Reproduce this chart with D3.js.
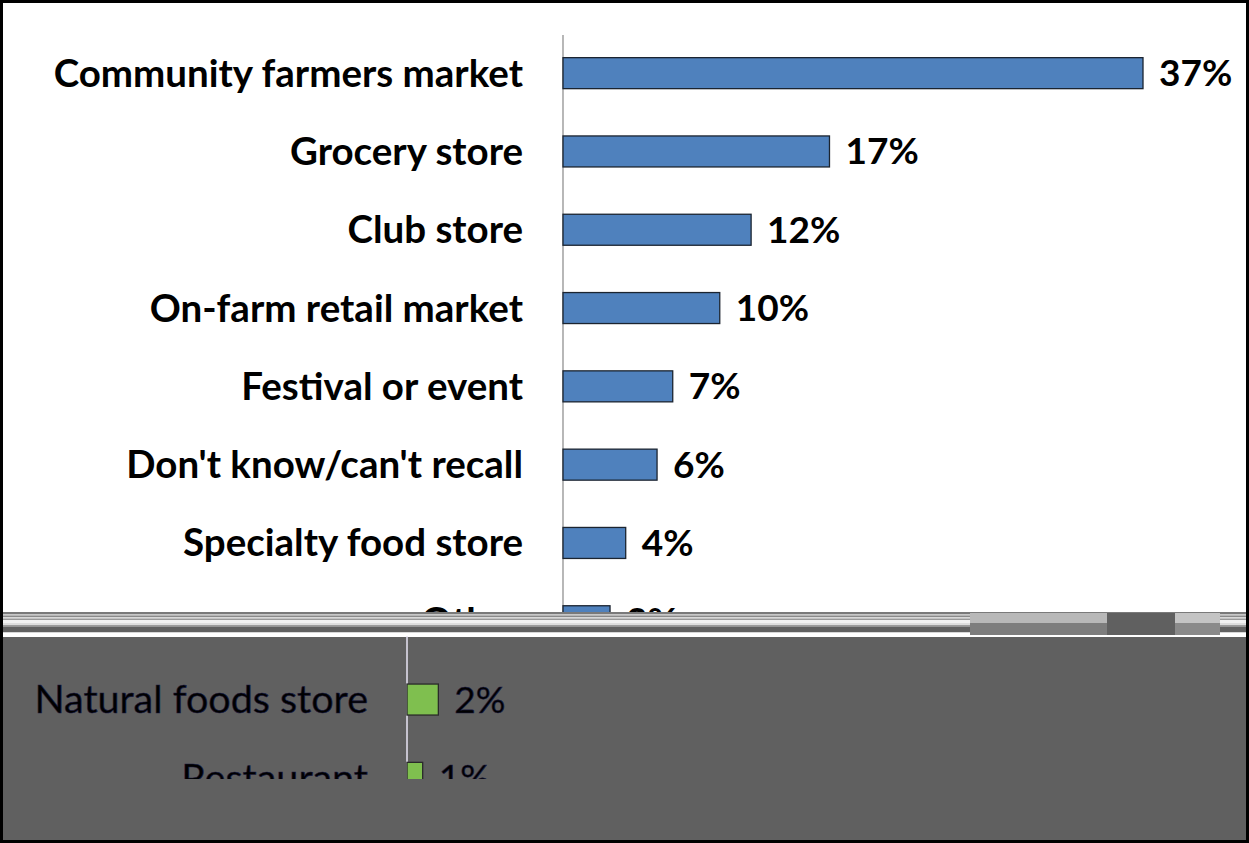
<!DOCTYPE html>
<html>
<head>
<meta charset="utf-8">
<script src="https://cdn.jsdelivr.net/npm/d3@7"></script>
<style>
  html, body { margin: 0; padding: 0; background: #fff; }
  svg { display: block; }
</style>
</head>
<body>
<svg id="chart" width="1249" height="843"></svg>
<script>
// ---- data ----
const categories = [
  "Community farmers market",
  "Grocery store",
  "Club store",
  "On-farm retail market",
  "Festival or event",
  "Don't know/can't recall",
  "Specialty food store",
  "Other",
  "Natural foods store",
  "Restaurant"
];
const values = [37, 17, 12, 10, 7, 6, 4, 3, 2, 1];
const valueLabels = ["37%", "17%", "12%", "10%", "7%", "6%", "4%", "3%", "2%", "1%"];
const topCategories = categories.slice(0, 8);
const bottomCategories = categories.slice(8);

const W = 1249, H = 843;
const svg = d3.select("#chart");
const font = "Lato, 'Open Sans', sans-serif";

svg.append("rect").attr("width", W).attr("height", H).attr("fill", "#fff");

const y = d3.scaleBand().domain(categories).range([34, 34 + 78.3 * 10]).paddingInner(0.6).paddingOuter(0.3);
const xTop = d3.scaleLinear().domain([0, 37]).range([563, 1143]);
const xBot = d3.scaleLinear().domain([0, 37]).range([407, 987]);

const defs = svg.append("defs");
defs.append("clipPath").attr("id", "clipTop").append("rect").attr("x", 0).attr("y", 0).attr("width", W).attr("height", 613);
defs.append("clipPath").attr("id", "clipBot").append("rect").attr("x", 0).attr("y", 636).attr("width", W).attr("height", 143);

// ---- top panel ----
const gTop = svg.append("g").attr("clip-path", "url(#clipTop)");
gTop.append("line").attr("x1", xTop(0)).attr("x2", xTop(0)).attr("y1", 35).attr("y2", 613)
  .attr("stroke", "#888").attr("stroke-width", 1.2);
const tRows = gTop.selectAll("g.row").data(topCategories).join("g").attr("class", "row");
tRows.append("rect")
  .attr("x", xTop(0)).attr("y", d => y(d) + (y.bandwidth() - 31) / 2)
  .attr("width", (d, i) => xTop(values[i]) - xTop(0)).attr("height", 31)
  .attr("fill", "#4f81bd").attr("stroke", "#1b2430").attr("stroke-width", 1.3);
tRows.append("text")
  .attr("x", xTop(0) - 40).attr("y", d => y(d) + y.bandwidth() / 2)
  .attr("dy", "0.35em").attr("text-anchor", "end")
  .attr("font-family", font).attr("font-weight", "bold").attr("font-size", 38.5)
  .attr("fill", "#000").text(d => d);
tRows.append("text")
  .attr("x", (d, i) => xTop(values[i]) + 16).attr("y", d => y(d) + y.bandwidth() / 2)
  .attr("dy", "0.35em").attr("text-anchor", "start")
  .attr("font-family", font).attr("font-weight", "bold").attr("font-size", 37)
  .attr("fill", "#000").text((d, i) => valueLabels[i]);

// ---- glitch band ----
const stripes = [
  [612, 2, "#7a7a7a"], [614, 1.5, "#c8c8c8"], [615.5, 1.5, "#8a8a8a"],
  [617, 1.5, "#d8d8d8"], [618.5, 1.5, "#9a9a9a"], [620, 3, "#f2f2f2"],
  [623, 2, "#dedede"], [625, 1.5, "#9c9c9c"], [626.5, 6, "#616161"],
  [632.5, 5, "#ffffff"]
];
svg.append("g").selectAll("rect").data(stripes).join("rect")
  .attr("x", 3).attr("y", d => d[0]).attr("width", W - 5).attr("height", d => d[1]).attr("fill", d => d[2]);
const blocks = [
  [970, 613, 140, 10, "#b8b8b8"], [970, 623, 140, 12, "#7d7d7d"],
  [1107, 613, 68, 22, "#606060"],
  [1175, 613, 45, 10, "#c4c4c4"], [1175, 623, 45, 12, "#8a8a8a"]
];
svg.append("g").selectAll("rect").data(blocks).join("rect")
  .attr("x", d => d[0]).attr("y", d => d[1]).attr("width", d => d[2]).attr("height", d => d[3]).attr("fill", d => d[4]);

// ---- bottom panel ----
svg.append("rect").attr("x", 3).attr("y", 637).attr("width", W - 5).attr("height", H - 640).attr("fill", "#606060");
const gBot = svg.append("g").attr("clip-path", "url(#clipBot)");
gBot.append("line").attr("x1", xBot(0)).attr("x2", xBot(0)).attr("y1", 636).attr("y2", 779)
  .attr("stroke", "#e8e4f4").attr("stroke-width", 1.5);
const bRows = gBot.selectAll("g.row").data(bottomCategories).join("g").attr("class", "row");
bRows.append("rect")
  .attr("x", xBot(0)).attr("y", d => y(d) + (y.bandwidth() - 31) / 2)
  .attr("width", (d, i) => xBot(values[8 + i]) - xBot(0)).attr("height", 31)
  .attr("fill", "#7fbf4f").attr("stroke", "#2a2a2a").attr("stroke-width", 1.3);
bRows.append("text")
  .attr("x", xBot(0) - 39).attr("y", d => y(d) + y.bandwidth() / 2)
  .attr("dy", "0.35em").attr("text-anchor", "end")
  .attr("font-family", font).attr("font-size", 39.5)
  .attr("fill", "#000").attr("stroke", "#1a1a40").attr("stroke-width", 0.6)
  .text(d => d);
bRows.append("text")
  .attr("x", (d, i) => xBot(values[8 + i]) + 16).attr("y", d => y(d) + y.bandwidth() / 2)
  .attr("dy", "0.35em").attr("text-anchor", "start")
  .attr("font-family", font).attr("font-size", 37)
  .attr("fill", "#000").attr("stroke", "#1a1a40").attr("stroke-width", 0.6)
  .text((d, i) => valueLabels[8 + i]);

// ---- frame ----
svg.append("rect").attr("x", 1.5).attr("y", 1.5).attr("width", W - 3).attr("height", H - 3)
  .attr("fill", "none").attr("stroke", "#000").attr("stroke-width", 3);
</script>
</body>
</html>
